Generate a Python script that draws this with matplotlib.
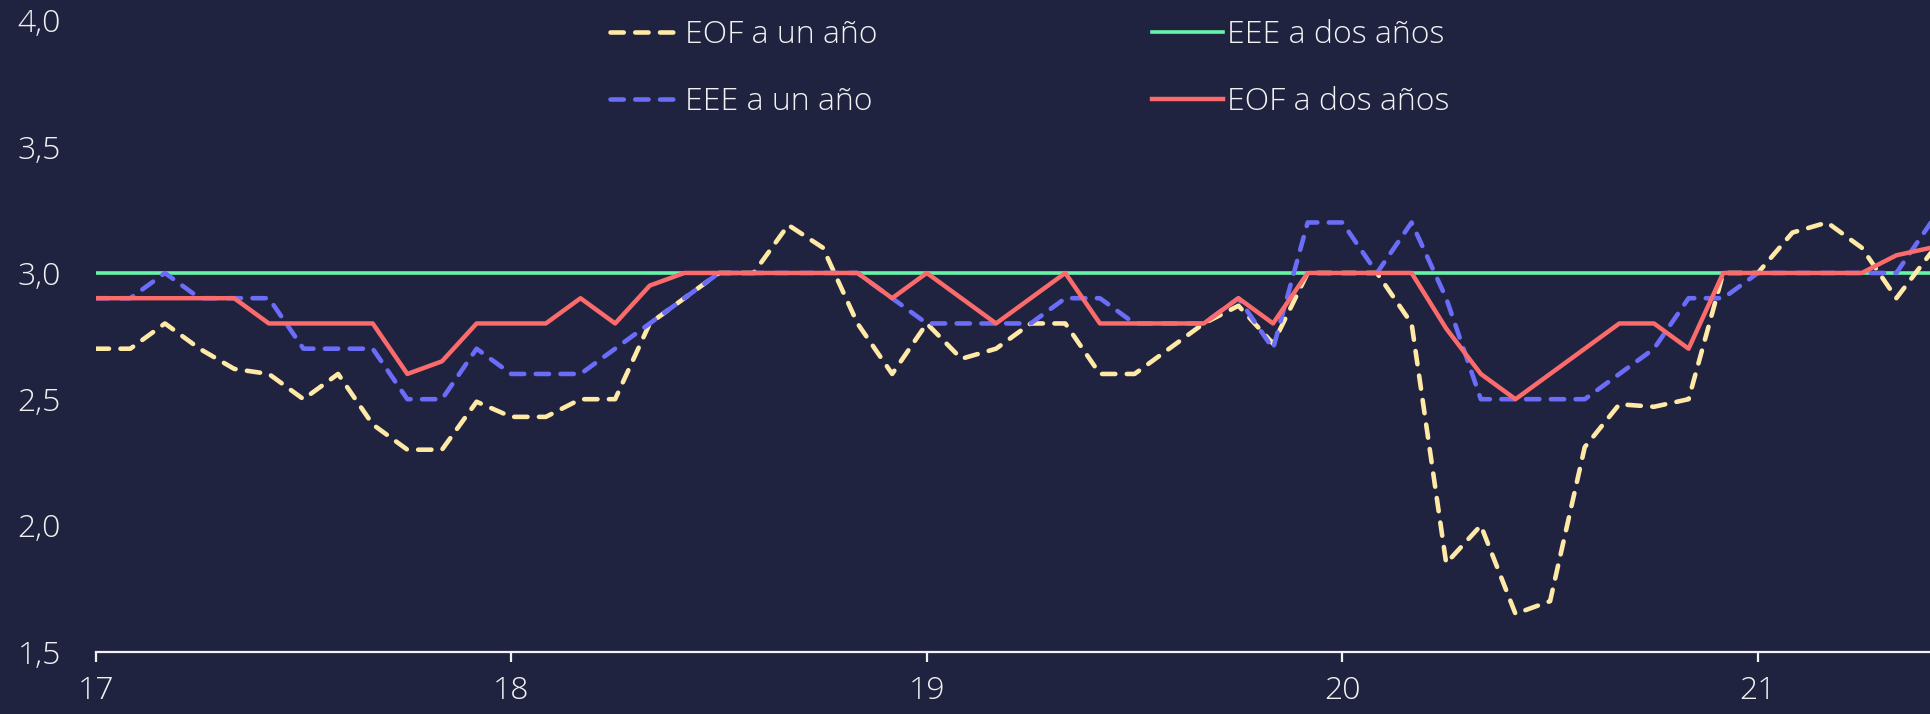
import numpy as np
import matplotlib
matplotlib.use('Agg')
import matplotlib.pyplot as plt
from matplotlib.ticker import FuncFormatter

# monthly expectations, Jan 2017 .. Jun 2021
eof_un_ano = [2.70, 2.70, 2.80, 2.70, 2.62, 2.60, 2.50, 2.60, 2.40, 2.30, 2.30, 2.49,
              2.43, 2.43, 2.50, 2.50, 2.80, 2.90, 3.00, 3.00, 3.19, 3.10, 2.80, 2.60,
              2.80, 2.66, 2.70, 2.80, 2.80, 2.60, 2.60, 2.70, 2.80, 2.87, 2.72, 3.00,
              3.00, 3.00, 2.80, 1.85, 2.00, 1.65, 1.70, 2.31, 2.48, 2.47, 2.50, 3.00,
              3.00, 3.16, 3.20, 3.10, 2.90, 3.08]
eee_un_ano = [2.90, 2.90, 3.00, 2.90, 2.90, 2.90, 2.70, 2.70, 2.70, 2.50, 2.50, 2.70,
              2.60, 2.60, 2.60, 2.70, 2.80, 2.90, 3.00, 3.00, 3.00, 3.00, 3.00, 2.90,
              2.80, 2.80, 2.80, 2.80, 2.90, 2.90, 2.80, 2.80, 2.80, 2.90, 2.70, 3.20,
              3.20, 3.00, 3.20, 2.90, 2.50, 2.50, 2.50, 2.50, 2.60, 2.70, 2.90, 2.90,
              3.00, 3.00, 3.00, 3.00, 3.00, 3.20]
eee_dos_anos = [3.0, 3.0, 3.0, 3.0, 3.0, 3.0, 3.0, 3.0, 3.0, 3.0, 3.0, 3.0,
                3.0, 3.0, 3.0, 3.0, 3.0, 3.0, 3.0, 3.0, 3.0, 3.0, 3.0, 3.0,
                3.0, 3.0, 3.0, 3.0, 3.0, 3.0, 3.0, 3.0, 3.0, 3.0, 3.0, 3.0,
                3.0, 3.0, 3.0, 3.0, 3.0, 3.0, 3.0, 3.0, 3.0, 3.0, 3.0, 3.0,
                3.0, 3.0, 3.0, 3.0, 3.0, 3.0]
eof_dos_anos = [2.90, 2.90, 2.90, 2.90, 2.90, 2.80, 2.80, 2.80, 2.80, 2.60, 2.65, 2.80,
                2.80, 2.80, 2.90, 2.80, 2.95, 3.00, 3.00, 3.00, 3.00, 3.00, 3.00, 2.90,
                3.00, 2.90, 2.80, 2.90, 3.00, 2.80, 2.80, 2.80, 2.80, 2.90, 2.80, 3.00,
                3.00, 3.00, 3.00, 2.78, 2.60, 2.50, 2.60, 2.70, 2.80, 2.80, 2.70, 3.00,
                3.00, 3.00, 3.00, 3.00, 3.07, 3.10]

years = [17, 18, 19, 20, 21]
y_ticks = [1.5, 2.0, 2.5, 3.0, 3.5, 4.0]

bg = '#1f233f'
fg = '#f2f2f2'
font = ['Open Sans', 'DejaVu Sans']

plt.rcParams['font.family'] = font
plt.rcParams['font.weight'] = 'light'

x = years[0] + np.arange(len(eof_un_ano)) / 12

fig = plt.figure(figsize=(19.31, 7.14), dpi=100, facecolor=bg)
ax = fig.add_axes([95.7 / 1931, 0.0873, 1 - 95.7 / 1931, 0.8840])
ax.set_facecolor(bg)

dash = dict(linestyle=(0, (2.9, 2.5)), dash_capstyle='round', linewidth=3.3)
l_green, = ax.plot(x, eee_dos_anos, color='#66f5a8', linewidth=2.6, label='EEE a dos años')
l_yel, = ax.plot(x, eof_un_ano, color='#ffe9a6', label='EOF a un año', **dash)
l_blue, = ax.plot(x, eee_un_ano, color='#6b6cf7', label='EEE a un año', **dash)
l_red, = ax.plot(x, eof_dos_anos, color='#fb6b6b', linewidth=3.2, label='EOF a dos años')

ax.set_xlim(years[0], x[-1])
ax.set_ylim(y_ticks[0], y_ticks[-1])
ax.set_xticks(years)
ax.set_xticklabels([str(y) for y in years])
ax.set_yticks(y_ticks)
ax.yaxis.set_major_formatter(FuncFormatter(lambda v, p: f'{v:.1f}'.replace('.', ',')))

for s in ['top', 'right', 'left']:
    ax.spines[s].set_visible(False)
ax.spines['bottom'].set_color(fg)
ax.spines['bottom'].set_linewidth(1.6)
ax.tick_params(axis='x', colors=fg, direction='out', length=7.5, width=1.6,
               pad=9, labelsize=23)
ax.tick_params(axis='y', colors=fg, length=0, pad=25, labelsize=23)

leg = ax.legend(handles=[l_yel, l_blue, l_green, l_red], ncol=2, loc='upper left',
                bbox_to_anchor=(610 / 1931, 0.973), bbox_transform=fig.transFigure,
                frameon=False, fontsize=23, handlelength=2.2, handletextpad=0.15,
                columnspacing=8.6, labelspacing=1.08, borderpad=0, borderaxespad=0)
for t in leg.get_texts():
    t.set_color(fg)

fig.savefig('out.png', dpi=100, facecolor=bg)
